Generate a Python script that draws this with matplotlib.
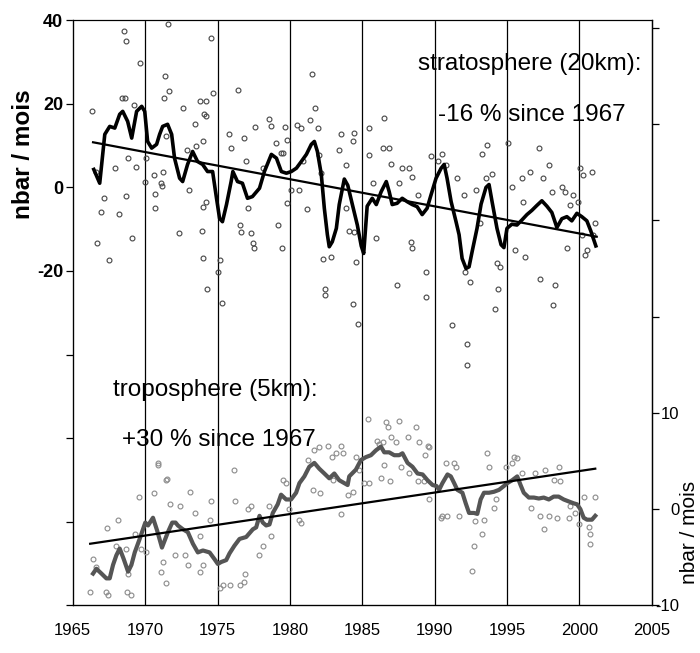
import matplotlib.pyplot as plt
import numpy as np

plt.rcParams['font.family'] = ['Liberation Sans', 'DejaVu Sans']

# stratosphere (20 km), left axis, nbar / mois
strat_years = [1966.36, 1968.52, 1968.70, 1969.67, 1968.43, 1968.59, 1969.25, 1966.63, 1966.93, 1966.70,
               1967.48, 1967.16, 1967.90, 1968.20, 1968.70, 1969.09, 1969.39, 1968.82, 1970.08, 1970.01,
               1970.61, 1970.66, 1970.70, 1971.16, 1971.23, 1971.37, 1971.64, 1971.57, 1971.30, 1971.41,
               1971.11, 1972.31, 1972.61, 1973.02, 1972.89, 1973.46, 1973.53, 1973.76, 1974.03, 1974.10,
               1974.22, 1974.17, 1974.56, 1974.68, 1973.99, 1973.94, 1974.22, 1974.03, 1974.26, 1975.14,
               1975.02, 1975.30, 1975.80, 1975.90, 1976.43, 1976.52, 1976.63, 1976.86, 1976.98, 1977.09,
               1977.32, 1977.44, 1977.50, 1977.62, 1978.17, 1978.59, 1978.70, 1979.05, 1979.39, 1979.53,
               1979.18, 1979.46, 1979.69, 1979.83, 1979.78, 1980.10, 1980.47, 1980.61, 1980.79, 1980.93,
               1981.39, 1981.53, 1981.76, 1981.92, 1982.03, 1982.15, 1981.18, 1982.31, 1982.43, 1982.45,
               1982.84, 1983.37, 1983.53, 1983.87, 1983.87, 1984.06, 1984.45, 1984.33, 1986.52, 1985.44,
               1985.44, 1985.71, 1986.40, 1986.82, 1986.98, 1987.55, 1987.78, 1988.24, 1988.47, 1988.82,
               1989.74, 1990.26, 1990.54, 1990.77, 1984.45, 1984.56, 1984.38, 1984.68, 1985.94, 1987.43,
               1988.35, 1988.47, 1989.39, 1989.39, 1991.23, 1991.57, 1992.84, 1993.53, 1993.64, 1993.30,
               1993.99, 1992.00, 1992.11, 1992.46, 1993.14, 1994.29, 1994.41, 1994.18, 1994.50, 1995.10,
               1995.33, 1995.56, 1996.02, 1996.14, 1996.25, 1996.60, 1997.18, 1997.29, 1997.52, 1997.87,
               1998.10, 1998.33, 1998.21, 1998.79, 1999.02, 1999.13, 1999.36, 1999.59, 1999.93, 2000.05,
               2000.16, 2000.28, 2000.39, 2000.51, 2000.85, 2001.08, 2000.97, 1992.24, 1992.24]
strat_vals = [18.2, 37.4, 35.0, 29.8, 21.4, 21.4, 19.8, 3.8, -6.0, -13.4,
              -17.4, -2.6, 4.6, -6.4, -2.0, -12.2, 5.0, 7.0, 7.0, 1.4,
              3.0, -1.6, -5.0, 0.4, 3.8, 26.6, 23.0, 39.2, 21.4, 12.2,
              1.0, -10.8, 19.0, -0.6, 9.0, 15.2, 9.8, 20.6, 11.0, 17.6,
              20.6, 17.0, 35.7, 22.6, -4.6, -10.4, -3.4, -17.0, -24.3, -17.4,
              -20.2, -27.6, 12.8, 9.4, 23.3, -9.0, -10.7, 11.8, 6.2, -5.0,
              -11.0, -13.4, -14.6, 14.4, 4.6, 16.4, 14.8, 10.6, 8.2, 8.2,
              -9.0, -14.4, 14.4, 11.4, -3.8, -0.6, 15.0, -0.6, 14.2, 6.4,
              16.2, 27.2, 19.0, 14.2, 7.8, 3.4, -5.1, -17.1, -24.2, -25.8,
              -16.6, 8.9, 12.8, 5.4, -5.0, -10.4, 13.0, 11.0, 16.6, 14.2,
              7.8, 1.0, 9.4, 9.4, 5.7, 1.0, 4.6, 4.6, 2.6, -1.8,
              7.4, 6.4, 8.0, 5.4, -10.6, -17.8, -27.8, -32.6, -12.2, -23.4,
              -13.0, -14.6, -20.2, -26.2, -33.0, 2.2, -0.6, 2.2, 10.2, 8.0,
              3.2, -1.8, -20.2, -22.6, -8.6, -18.2, -24.2, -29.0, -19.0, 10.6,
              0.2, -15.0, 2.2, -3.4, -16.6, 3.8, 9.4, -21.8, 2.2, 5.4,
              -1.0, -23.4, -28.2, 0.2, -1.0, -14.6, -4.2, -1.8, -3.4, 4.6,
              -11.4, 3.0, -16.2, -15.0, 3.8, -8.6, -11.4, -37.5, -42.5]

strat_mean_years = [1966.45, 1966.86, 1967.21, 1967.55, 1967.90, 1968.24, 1968.45, 1968.79, 1969.07, 1969.41,
                    1969.76, 1969.97, 1970.17, 1970.45, 1970.79, 1971.00, 1971.21, 1971.55, 1971.83, 1972.03,
                    1972.38, 1972.59, 1972.93, 1973.28, 1973.62, 1973.97, 1974.31, 1974.66, 1974.93, 1975.14,
                    1975.34, 1975.62, 1975.94, 1976.06, 1976.38, 1976.72, 1977.07, 1977.41, 1977.90, 1978.24,
                    1978.72, 1979.07, 1979.41, 1979.76, 1980.10, 1980.45, 1980.79, 1981.14, 1981.48, 1981.69,
                    1981.90, 1982.17, 1982.38, 1982.59, 1982.72, 1982.93, 1983.21, 1983.41, 1983.76, 1984.00,
                    1984.31, 1984.66, 1984.93, 1985.10, 1985.34, 1985.69, 1985.97, 1986.31, 1986.66, 1986.86,
                    1987.07, 1987.41, 1987.76, 1988.10, 1988.45, 1988.79, 1989.14, 1989.48, 1989.76, 1990.10,
                    1990.45, 1990.66, 1990.86, 1991.14, 1991.48, 1991.69, 1991.90, 1992.17, 1992.38, 1992.59,
                    1992.93, 1993.21, 1993.55, 1993.76, 1993.97, 1994.31, 1994.59, 1994.79, 1995.00, 1995.34,
                    1995.69, 1996.03, 1996.38, 1996.72, 1997.07, 1997.41, 1997.76, 1998.10, 1998.45, 1998.79,
                    1999.14, 1999.48, 1999.83, 2000.17, 2000.52, 2000.79, 2001.14]
strat_mean_vals = [4.3, 1.0, 12.7, 14.6, 14.2, 17.5, 18.2, 15.8, 11.8, 18.2,
                   19.4, 18.2, 11.0, 9.4, 10.3, 12.7, 14.6, 15.1, 12.7, 7.0,
                   2.2, 1.4, 5.5, 8.6, 6.2, 5.5, 3.8, 3.8, -2.6, -7.4,
                   -8.2, -4.1, 1.4, 3.8, 1.4, 1.0, -2.6, -2.2, -0.2, 3.8,
                   7.9, 7.0, 3.8, 3.4, 3.8, 4.6, 6.2, 7.9, 10.3, 11.0,
                   8.6, 3.1, -5.0, -11.3, -14.2, -13.0, -9.8, -4.1, 2.0, 0.5,
                   -4.0, -9.0, -14.0, -15.8, -4.5, -2.6, -4.1, -1.0, 1.4, -1.0,
                   -4.1, -3.8, -2.6, -3.4, -4.1, -4.6, -6.5, -5.0, -1.7, 2.2,
                   4.6, 5.5, 2.2, -3.4, -8.2, -11.3, -17.0, -19.4, -19.0, -15.4,
                   -9.8, -4.0, 0.0, 0.7, -3.4, -9.8, -13.7, -14.4, -9.8, -8.8,
                   -9.0, -7.8, -6.5, -5.5, -4.3, -3.2, -4.5, -6.0, -9.6, -7.5,
                   -7.0, -8.0, -6.2, -7.0, -8.0, -10.4, -14.0]

strat_trend_years = [1966.4, 2001.2]
strat_trend_vals = [10.8, -11.8]

# troposphere (5 km), right axis, nbar / mois
tropo_years = [1966.17, 1966.40, 1966.63, 1967.28, 1967.44, 1967.37, 1968.13, 1968.01, 1968.70, 1968.77,
               1969.05, 1968.82, 1969.28, 1969.57, 1969.74, 1970.08, 1970.59, 1970.89, 1971.41, 1971.11,
               1971.46, 1971.23, 1971.69, 1972.03, 1972.38, 1972.72, 1972.95, 1973.07, 1973.41, 1973.76,
               1973.76, 1974.03, 1974.45, 1974.56, 1975.14, 1975.37, 1975.83, 1976.17, 1976.24, 1976.52,
               1976.86, 1976.90, 1977.09, 1977.32, 1977.90, 1978.13, 1978.70, 1978.59, 1979.51, 1979.74,
               1979.97, 1980.66, 1980.77, 1981.23, 1981.69, 1982.03, 1982.61, 1983.18, 1983.64, 1982.95,
               1983.53, 1981.57, 1982.10, 1970.86, 1971.48, 1982.93,
               1985.37, 1986.63, 1986.75, 1987.55, 1988.70, 1984.56, 1984.79, 1985.14, 1986.17, 1987.32,
               1988.13, 1988.24, 1987.67, 1988.93, 1989.51, 1989.63, 1989.28, 1990.54, 1990.89, 1990.77,
               1991.35, 1991.46, 1991.69, 1992.72, 1992.61, 1992.79, 1993.30, 1993.41, 1993.64, 1993.76,
               1994.10, 1994.22, 1994.91, 1995.48, 1995.71, 1995.36, 1996.05, 1996.63, 1996.97, 1997.31,
               1997.54, 1997.66, 1997.89, 1998.23, 1998.46, 1998.57, 1998.69, 1999.26, 1999.38, 1999.72,
               1999.95, 2000.30, 2000.64, 2000.76, 2000.76, 2001.10, 1983.53, 1986.05, 1987.01, 1986.44,
               1989.60, 1986.53, 1986.30, 1986.93, 1988.87, 1989.33, 1983.99, 1984.33, 1985.48, 1990.43]
tropo_vals = [-8.6, -5.2, -6.0, -8.6, -8.9, -2.0, -1.1, -3.8, -4.1, -8.6,
              -8.9, -6.7, -2.6, 1.3, -4.1, -4.5, 1.7, 4.8, 3.0, -6.5,
              -7.7, -5.5, 0.5, -4.8, 0.3, -4.8, -5.8, 1.8, -0.4, -2.8,
              -6.5, -5.8, -1.1, 0.8, -8.2, -7.9, -7.9, 4.1, 0.8, -7.9,
              -7.6, -6.7, 0.0, 0.3, -4.8, -3.8, -2.8, 0.3, 3.0, 2.7,
              0.0, -1.1, -1.4, 5.1, 6.1, 6.5, 6.6, 5.8, 5.8, 3.0,
              -0.5, 2.0, 1.7, 4.6, 3.1, 5.4,
              9.4, 9.0, 8.5, 9.2, 8.5, 5.4, 4.1, 2.7, 6.8, 7.0,
              7.5, 3.7, 4.4, 7.0, 6.6, 1.0, 2.9, -0.7, -0.7, 4.8,
              4.8, 4.4, -0.7, -3.8, -6.4, -1.2, -2.6, -1.1, 5.8, 4.4,
              0.1, 1.0, 4.4, 5.4, 5.3, 4.8, 3.7, 0.1, 3.7, -0.7,
              -2.1, 4.1, -0.7, 3.0, -0.9, 4.4, 2.9, -0.9, 0.3, -0.4,
              -1.6, 1.3, -1.9, -2.6, -3.6, 1.3, 6.6, 7.1, 7.5, 7.0,
              6.5, 4.6, 3.2, 2.9, 2.9, 5.6, 1.5, 1.8, 2.7, -0.9]

tropo_mean_years = [1966.40, 1966.63, 1966.98, 1967.32, 1967.55, 1967.78, 1968.01, 1968.24, 1968.52, 1968.82,
                    1969.05, 1969.28, 1969.62, 1970.01, 1970.20, 1970.54, 1970.82, 1971.16, 1971.34, 1971.57,
                    1971.87, 1972.10, 1972.26, 1972.61, 1972.95, 1973.30, 1973.64, 1973.99, 1974.45, 1974.79,
                    1975.02, 1975.25, 1975.60, 1975.83, 1976.17, 1976.52, 1976.98, 1977.44, 1977.67, 1977.90,
                    1978.13, 1978.36, 1978.59, 1978.82, 1979.16, 1979.39, 1979.74, 1980.08, 1980.43, 1980.66,
                    1981.00, 1981.34, 1981.69, 1982.03, 1982.38, 1982.72, 1983.07, 1983.41, 1983.99, 1984.10,
                    1984.56, 1984.91, 1985.25, 1985.60, 1985.94, 1986.29, 1986.52, 1986.86, 1987.21, 1987.55,
                    1987.78, 1988.13, 1988.47, 1988.82, 1989.17, 1989.51, 1989.86, 1990.13, 1990.31, 1990.54,
                    1990.89, 1991.12, 1991.35, 1991.57, 1991.92, 1992.15, 1992.38, 1992.72, 1992.95, 1993.18,
                    1993.41, 1993.76, 1994.10, 1994.45, 1994.79, 1995.02, 1995.36, 1995.71, 1995.94, 1996.16,
                    1996.51, 1996.86, 1997.20, 1997.54, 1997.89, 1998.23, 1998.57, 1998.92, 1999.26, 1999.61,
                    1999.84, 2000.07, 2000.30, 2000.53, 2000.87, 2001.10]
tropo_mean_vals = [-6.7, -6.2, -6.7, -7.2, -7.2, -5.8, -4.8, -4.1, -5.2, -6.5,
                   -5.8, -4.5, -3.1, -1.4, -1.7, -0.9, -2.2, -4.0, -3.3, -2.4,
                   -1.4, -1.4, -1.7, -2.1, -2.4, -3.6, -4.5, -4.3, -4.5, -5.2,
                   -5.7, -5.5, -5.3, -4.6, -3.8, -3.1, -2.9, -2.1, -1.9, -0.7,
                   -1.4, -1.7, -1.6, -0.4, 0.5, 1.5, 1.0, 1.0, 1.7, 2.7,
                   3.4, 4.4, 4.8, 4.2, 3.7, 3.2, 3.7, 3.0, 2.5, 3.4,
                   4.1, 5.1, 5.4, 5.6, 6.1, 6.5, 5.9, 5.9, 5.6, 5.6,
                   5.8, 4.8, 4.4, 3.7, 3.6, 3.0, 2.5, 2.4, 2.0, 2.7,
                   3.6, 3.4, 2.7, 2.0, 1.7, 0.6, -0.4, -0.4, -0.5, 1.0,
                   1.7, 1.7, 1.8, 2.0, 2.4, 2.7, 3.0, 3.4, 2.5, 1.7,
                   1.2, 1.2, 1.1, 1.2, 1.0, 1.3, 1.3, 1.0, 0.8, 0.6,
                   0.5, 0.0, -0.9, -1.1, -1.1, -0.7]

tropo_trend_years = [1966.2, 2001.1]
tropo_trend_vals = [-3.6, 4.2]

x_ticks = [1965, 1970, 1975, 1980, 1985, 1990, 1995, 2000, 2005]
left_ticks = [-100, -80, -60, -40, -20, 0, 20, 40]
left_labels = ['', '', '', '', '-20', '0', '20', '40']
right_ticks = [-10, 0, 10, 20, 30, 40, 50]
right_labels = ['-10', '0', '10', '', '', '', '']

fig = plt.figure(figsize=(7.0, 6.53), dpi=100)
ax = fig.add_axes([0.104, 0.073, 0.827, 0.896])

for yr in x_ticks[1:-1]:
    ax.axvline(yr, color='black', lw=0.9, zorder=1)

ax.plot(strat_years, strat_vals, 'o', ms=3.5, mfc='none', mec='#444444', mew=0.8, zorder=2)
ax.plot(strat_mean_years, strat_mean_vals, color='black', lw=2.6, zorder=4)
ax.plot(strat_trend_years, strat_trend_vals, color='black', lw=1.6, zorder=5)

ax.set_xlim(1965, 2005)
ax.set_ylim(-100, 40)
ax.set_xticks(x_ticks)
ax.set_xticklabels([str(t) for t in x_ticks], fontsize=12)
ax.tick_params(axis='x', length=0, pad=13)
ax.set_yticks(left_ticks)
ax.set_yticklabels(left_labels, fontsize=13, fontweight='bold')
ax.tick_params(axis='y', direction='out', length=5, width=0.9, pad=2)
for sp in ax.spines.values():
    sp.set_linewidth(0.9)
ax.spines['top'].set_color('#888888')
ax.set_ylabel('nbar / mois', fontsize=17.5, fontweight='bold')
ax.yaxis.set_label_coords(-0.066, 0.771)

ax2 = ax.twinx()
ax2.plot(tropo_years, tropo_vals, 'o', ms=3.5, mfc='none', mec='#8a8a8a', mew=0.8, zorder=2)
ax2.plot(tropo_mean_years, tropo_mean_vals, color='#555555', lw=3.0, zorder=4)
ax2.plot(tropo_trend_years, tropo_trend_vals, color='black', lw=1.6, zorder=5)
ax2.set_ylim(-9.5, 50.8)
ax2.set_yticks(right_ticks)
ax2.set_yticklabels(right_labels, fontsize=12, ha='right')
ax2.tick_params(axis='y', direction='out', length=5, width=0.9, pad=15)
ax2.spines['right'].set_linewidth(0.9)

fig.text(0.999, 0.185, 'nbar / mois', rotation=90, fontsize=15, ha='right', va='center')

ax.text(0.596, 0.926, 'stratosphere (20km):', transform=ax.transAxes, fontsize=17.5,
        ha='left', va='center', zorder=6)
ax.text(0.630, 0.838, '-16 % since 1967', transform=ax.transAxes, fontsize=17.5,
        ha='left', va='center', zorder=6)
ax.text(0.069, 0.368, 'troposphere (5km):', transform=ax.transAxes, fontsize=17.5,
        ha='left', va='center', zorder=6)
ax.text(0.085, 0.282, '+30 % since 1967', transform=ax.transAxes, fontsize=17.5,
        ha='left', va='center', zorder=6)

fig.savefig('out.png', dpi=100)
